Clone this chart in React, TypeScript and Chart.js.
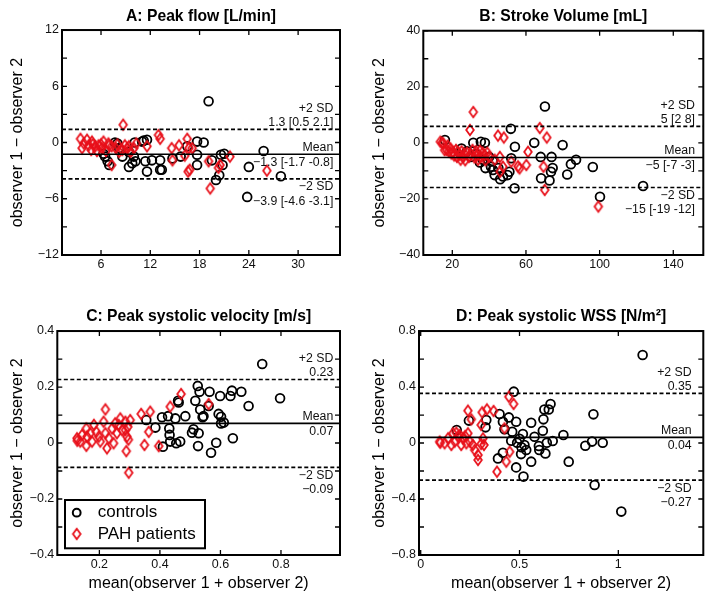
import React, { useEffect, useRef } from 'react';
import { Chart, registerables } from 'chart.js';
Chart.register(...registerables);

const FONT = "'Liberation Sans', Arial, Helvetica, sans-serif";
const RED = '#e8101a';
const INK = '#000';

// ---------------- Panel A: Peak flow ----------------
const aTitle = 'A: Peak flow [L/min]';
const aControls = [
  [6.3, -1.2], [6.5, -1.5], [6.8, -2.0], [7.0, -2.4], [7.7, 0.0], [8.0, -0.1], [8.2, -0.6], [8.6, -1.5],
  [9.4, -1.0], [10.0, -1.5], [9.4, -2.6], [9.8, -2.2], [10.2, -2.0], [10.1, 0.0], [11.0, 0.1], [11.2, 0.2],
  [11.6, 0.3], [11.4, -2.0], [11.6, -3.1], [12.2, -1.9], [13.2, -1.9], [13.2, -2.9], [13.4, -2.9], [14.7, -1.7],
  [15.7, -1.5], [16.5, -0.4], [17.7, -1.3], [17.7, 0.1], [18.5, 0.0], [17.7, -2.4], [19.5, -1.9], [20.6, -1.3],
  [21.0, -1.2], [20.8, -2.4], [20.4, -3.5], [20.0, -4.0], [24.0, -2.6], [25.8, -0.9], [27.9, -3.6], [23.8, -5.8],
  [19.1, 4.4],
];
const aPAH = [
  [3.5, 0.4], [4.3, 0.3], [3.9, -0.1], [4.5, -0.3], [4.9, 0.1], [5.3, -0.4], [5.7, -0.3], [6.3, 0.1], [6.1, -0.6],
  [6.9, -0.1], [7.3, -0.4], [7.8, -0.6], [8.2, -1.0], [8.6, -0.8], [9.2, -0.6], [9.6, -1.0], [10.0, -0.6],
  [3.7, -0.6], [4.8, -0.8], [5.5, -0.9], [6.6, -0.9], [7.0, -0.3], [8.0, -0.2], [8.9, -0.3], [9.4, -0.4],
  [10.3, -0.1], [5.0, -0.2], [6.0, -0.2], [7.3, -2.4], [8.7, 1.9], [11.6, -0.4], [13.0, 0.8], [13.2, 0.4],
  [14.6, -0.6], [14.7, -1.9], [15.5, -0.3], [16.5, 0.4], [16.7, -0.6], [16.2, -1.4], [17.1, -0.6], [16.6, -3.1],
  [16.8, -2.9], [19.1, -2.0], [20.5, -2.4], [21.7, -1.5], [19.3, -4.9], [26.2, -3.0], [20.3, -2.7],
];
const aLines = [1.4, -1.25, -3.88]; // +2 SD, mean, -2 SD
const aLineText = ['+2 SD', '1.3 [0.5 2.1]', 'Mean', '\u22121.3 [-1.7 -0.8]', '\u22122 SD', '\u22123.9 [-4.6 -3.1]'];
const aXRange = [1.25, 35.1];
const aYRange = [-12, 12];
const aXTicks = [6, 12, 18, 24, 30];
const aYTicks = [-12, -9, -6, -3, 0, 3, 6, 9, 12];
const aYLabels = [-12, -6, 0, 6, 12];

// ---------------- Panel B: Stroke volume ----------------
const bTitle = 'B: Stroke Volume [mL]';
const bControls = [
  [16, 1], [31.4, 0], [37.7, 0], [35.5, 0.4], [51.8, 5], [54, -1.4], [64.5, 0], [70.3, 13], [79.9, -0.8],
  [28, -3], [30, -5], [33, -4], [35, -7], [36.6, -6], [38, -9], [40, -5], [41, -8.5], [43, -11.5], [45, -9],
  [47.5, -12], [50, -11.5], [51, -10.3], [52, -5.5], [53.8, -16.2], [68, -5], [73.9, -5], [68.2, -12.6],
  [72.8, -13.4], [73.6, -10.3], [74.5, -9], [82.4, -11.3], [84.4, -7.6], [87.2, -6], [96.3, -8.6],
  [100.2, -19.2], [123.6, -15.4], [25, -2], [42, -6.5], [46, -13], [42.1, -9.7],
];
const bPAH = [
  [13.5, 0.4], [14.5, 0], [15.1, -0.2], [15.8, -2.6], [16.9, -2.5], [17.5, -1], [18, -3], [19, -2], [19.5, -3.8],
  [20.4, -3.2], [21, -4.5], [22, -2.5], [22.5, -5], [23, -3.2], [24, -4.3], [24.5, -6], [25, -3], [26, -5],
  [26.5, -3.8], [27, -6.2], [28, -3.5], [29, -5], [30, -4], [31, -2.5], [32, -5.2], [33, -3], [33.5, -4.5],
  [34, -6], [35, -2.8], [35.5, -5], [36.5, -3.5], [37.5, -4.5], [38, -6.2], [39, -3.5], [40, -5], [29.6, 4.6],
  [31.4, 11], [44.8, 2.6], [48, 1.9], [67.5, 5.3], [71.3, 1.9], [45.8, -5], [46, -10.3], [47.5, -8.5], [52, -6.7],
  [55.7, -8.4], [56.5, -9.1], [60.2, -7.9], [61.1, -3.2], [69.5, -8.5], [70.2, -16.8], [99.3, -22.7], [43, -6],
];
const bLines = [5.9, -5.2, -15.9];
const bLineText = ['+2 SD', '5 [2 8]', 'Mean', '\u22125 [-7 -3]', '\u22122 SD', '\u221215 [-19 -12]'];
const bXRange = [4.25, 156.3];
const bYRange = [-40, 40];
const bXTicks = [20, 60, 100, 140];
const bYTicks = [-40, -30, -20, -10, 0, 10, 20, 30, 40];
const bYLabels = [-40, -20, 0, 20, 40];

// ---------------- Panel C: Peak systolic velocity ----------------
const cTitle = 'C: Peak systolic velocity [m/s]';
const cControls = [
  [0.355, 0.082], [0.385, 0.055], [0.407, 0.092], [0.41, -0.013], [0.427, 0.096], [0.431, 0.052], [0.432, 0.029],
  [0.434, 0.005], [0.451, 0.088], [0.454, -0.001], [0.46, 0.151], [0.462, 0.145], [0.467, 0.005], [0.484, 0.096],
  [0.506, 0.037], [0.511, 0.049], [0.517, 0.151], [0.525, 0.204], [0.526, -0.011], [0.528, 0.035], [0.531, 0.183],
  [0.533, 0.12], [0.541, 0.092], [0.544, 0.096], [0.561, 0.132], [0.564, 0.183], [0.569, -0.035], [0.586, 0.001],
  [0.594, 0.104], [0.599, 0.168], [0.602, 0.094], [0.602, 0.07], [0.611, 0.073], [0.633, 0.168], [0.638, 0.187],
  [0.641, 0.017], [0.669, 0.183], [0.693, 0.132], [0.738, 0.282], [0.797, 0.16],
];
const cPAH = [
  [0.47, 0.175], [0.561, 0.139], [0.434, 0.13], [0.22, 0.12], [0.338, 0.104], [0.368, 0.112], [0.363, 0.04],
  [0.349, -0.007], [0.396, -0.011], [0.289, -0.029], [0.297, -0.106], [0.225, -0.019], [0.214, 0.076],
  [0.269, 0.088], [0.286, 0.076], [0.264, 0.064], [0.302, 0.082], [0.157, 0.052], [0.126, 0.017], [0.137, 0.005],
  [0.157, -0.01], [0.176, 0.005], [0.19, 0.04], [0.198, 0.023], [0.22, 0.035], [0.231, 0.017], [0.242, 0.052],
  [0.258, 0.035], [0.275, 0.046], [0.291, 0.023], [0.143, 0.029], [0.17, 0.035], [0.203, 0.005], [0.247, -0.001],
  [0.286, 0.046], [0.294, 0.058], [0.159, 0.023], [0.296, 0.012], [0.127, 0.008], [0.182, 0.065], [0.252, 0.07],
];
const cLines = [0.227, 0.07, -0.087];
const cLineText = ['+2 SD', '0.23', 'Mean', '0.07', '\u22122 SD', '\u22120.09'];
const cXRange = [0.061, 0.995];
const cYRange = [-0.4, 0.4];
const cXTicks = [0.2, 0.4, 0.6, 0.8];
const cYTicks = [-0.4, -0.3, -0.2, -0.1, 0, 0.1, 0.2, 0.3, 0.4];
const cYLabels = [-0.4, -0.2, 0, 0.2, 0.4];

// ---------------- Panel D: Peak systolic WSS ----------------
const dTitle = 'D: Peak systolic WSS [N/m\u00b2]';
const dControls = [
  [0.471, 0.367], [0.657, 0.279], [0.648, 0.24], [0.626, 0.24], [0.874, 0.205], [0.244, 0.16], [0.332, 0.164],
  [0.399, 0.207], [0.446, 0.183], [0.483, 0.152], [0.559, 0.145], [0.621, 0.169], [0.618, 0.088], [0.416, 0.152],
  [0.424, 0.098], [0.463, 0.081], [0.517, 0.064], [0.576, 0.045], [0.722, 0.057], [0.328, 0.112], [0.458, 0.017],
  [0.488, 0.002], [0.525, -0.014], [0.534, -0.05], [0.508, -0.079], [0.559, -0.133], [0.598, -0.021],
  [0.631, -0.074], [0.638, 0.002], [0.668, 0.014], [0.749, -0.133], [0.833, -0.019], [0.867, 0.01], [0.921, 0.002],
  [0.391, -0.11], [0.416, -0.069], [0.483, -0.174], [0.52, -0.24], [0.182, 0.093], [0.88, -0.3], [1.015, -0.49],
  [1.123, 0.629], [0.5, 0.03], [0.6, -0.05], [0.51, -0.03],
];
const dPAH = [
  [0.446, 0.331], [0.47, 0.279], [0.239, 0.231], [0.311, 0.219], [0.335, 0.24], [0.369, 0.229], [0.256, 0.169],
  [0.306, 0.129], [0.424, 0.105], [0.099, 0.002], [0.138, 0.033], [0.163, 0.069], [0.18, 0.074], [0.197, 0.057],
  [0.214, 0.033], [0.239, 0.069], [0.248, 0.01], [0.264, -0.014], [0.273, -0.05], [0.29, -0.086], [0.29, -0.121],
  [0.306, -0.007], [0.315, 0.033], [0.155, -0.014], [0.172, 0.01], [0.205, -0.014], [0.231, -0.002], [0.096, 0.01],
  [0.121, -0.002], [0.45, -0.062], [0.433, -0.133], [0.386, -0.205], [0.32, -0.014], [0.19, 0.045], [0.225, 0.05],
];
const dLines = [0.355, 0.04, -0.265];
const dLineText = ['+2 SD', '0.35', 'Mean', '0.04', '\u22122 SD', '\u22120.27'];
const dXRange = [-0.0086, 1.43];
const dYRange = [-0.8, 0.8];
const dXTicks = [0, 0.5, 1];
const dYTicks = [-0.8, -0.6, -0.4, -0.2, 0, 0.2, 0.4, 0.6, 0.8];
const dYLabels = [-0.8, -0.4, 0, 0.4, 0.8];

const seriesNames = ['controls', 'PAH patients'];
const yAxisTitle = 'observer 1 \u2212 observer 2';
const xAxisTitle = 'mean(observer 1 + observer 2)';

// ---------------- assembled panel definitions ----------------
const panels = [
  { title: aTitle, controls: aControls, pah: aPAH, lines: aLines, lineText: aLineText, xRange: aXRange, yRange: aYRange, xTicks: aXTicks, yTicks: aYTicks, yLabels: aYLabels, xLabels: aXTicks },
  { title: bTitle, controls: bControls, pah: bPAH, lines: bLines, lineText: bLineText, xRange: bXRange, yRange: bYRange, xTicks: bXTicks, yTicks: bYTicks, yLabels: bYLabels, xLabels: bXTicks },
  { title: cTitle, controls: cControls, pah: cPAH, lines: cLines, lineText: cLineText, xRange: cXRange, yRange: cYRange, xTicks: cXTicks, yTicks: cYTicks, yLabels: cYLabels, xLabels: cXTicks },
  { title: dTitle, controls: dControls, pah: dPAH, lines: dLines, lineText: dLineText, xRange: dXRange, yRange: dYRange, xTicks: dXTicks, yTicks: dYTicks, yLabels: dYLabels, xLabels: dXTicks },
];

// layout geometry (pixels) per panel
const geoms = [
  { left: 0, top: 0, w: 357, h: 300, padR: 17, yW: 62, xH: 45, tTop: 7.3, tBot: 3.9, yTitlePad: 7.6, xTitle: false, textInset: 6.7, legend: false },
  { left: 357, top: 0, w: 357, h: 300, padR: 10.7, yW: 66.3, xH: 45, tTop: 7.3, tBot: 4.6, yTitlePad: 13.4, xTitle: false, textInset: 8.3, legend: false },
  { left: 0, top: 300, w: 357, h: 303, padR: 17, yW: 57.3, xH: 48, tTop: 7.3, tBot: 4.9, yTitlePad: 7.9, xTitle: true, textInset: 6.7, legend: true },
  { left: 357, top: 300, w: 357, h: 303, padR: 10.7, yW: 62, xH: 48, tTop: 7.3, tBot: 4.9, yTitlePad: 13.4, xTitle: true, textInset: 11.6, legend: false },
];

function fmt(v: number): string {
  if (Math.abs(v) < 1e-9) return '0';
  const s = String(Math.round(Math.abs(v) * 1000) / 1000);
  return (v < 0 ? '\u2212' : '') + s;
}

function makeDiamond(color: string) {
  const c = document.createElement('canvas');
  c.width = 14;
  c.height = 16;
  const g = c.getContext('2d')!;
  g.strokeStyle = color;
  g.lineWidth = 1.8;
  g.lineJoin = 'miter';
  g.beginPath();
  g.moveTo(7, 2.8);
  g.lineTo(10.8, 8);
  g.lineTo(7, 13.2);
  g.lineTo(3.2, 8);
  g.closePath();
  g.stroke();
  return c;
}

function Panel({ def, geom }: { def: any; geom: any }) {
  const ref = useRef<HTMLCanvasElement>(null);
  useEffect(() => {
    const canvas = ref.current!;
    const diamond = makeDiamond(RED);
    const toPts = (arr: number[][]) => arr.map(([x, y]) => ({ x, y }));
    const hline = (v: number) => [{ x: def.xRange[0], y: v }, { x: def.xRange[1], y: v }];
    const lineDs = (v: number, dash: number[]) => ({
      data: hline(v), showLine: true, borderColor: INK, backgroundColor: INK, borderWidth: 1.6,
      borderDash: dash, pointRadius: 0, order: 0,
    });

    const frame = {
      id: 'frame',
      afterDraw(chart: any) {
        const { ctx, chartArea: a } = chart;
        const xs = chart.scales.x;
        const ys = chart.scales.y;
        ctx.save();
        ctx.strokeStyle = INK;
        ctx.lineWidth = 1.3;
        ctx.beginPath();
        def.yTicks.forEach((v: number) => {
          const py = ys.getPixelForValue(v);
          ctx.moveTo(a.left, py); ctx.lineTo(a.left + 5, py);
          ctx.moveTo(a.right, py); ctx.lineTo(a.right - 5, py);
        });
        def.xTicks.forEach((v: number) => {
          const px = xs.getPixelForValue(v);
          ctx.moveTo(px, a.top); ctx.lineTo(px, a.top + 5);
          ctx.moveTo(px, a.bottom); ctx.lineTo(px, a.bottom - 5);
        });
        ctx.stroke();
        ctx.lineWidth = 2;
        ctx.strokeRect(a.left, a.top, a.right - a.left, a.bottom - a.top);

        // reference-line annotations
        ctx.font = `12.3px ${FONT}`;
        ctx.fillStyle = '#111';
        ctx.textAlign = 'right';
        ctx.textBaseline = 'middle';
        const tx = a.right - geom.textInset;
        const yU = ys.getPixelForValue(def.lines[0]);
        const yM = ys.getPixelForValue(def.lines[1]);
        const yL = ys.getPixelForValue(def.lines[2]);
        ctx.fillText(def.lineText[0], tx, yU - 20.5);
        ctx.fillText(def.lineText[1], tx, yU - 6.5);
        ctx.fillText(def.lineText[2], tx, yM - 6.5);
        ctx.fillText(def.lineText[3], tx, yM + 8);
        ctx.fillText(def.lineText[4], tx, yL + 8);
        ctx.fillText(def.lineText[5], tx, yL + 22.5);

        if (geom.legend) {
          const L = a.left + 7.7;
          const T = a.bottom - 55;
          const W = 140;
          const H = 48.3;
          ctx.fillStyle = '#fff';
          ctx.fillRect(L, T, W, H);
          ctx.lineWidth = 2;
          ctx.strokeStyle = INK;
          ctx.strokeRect(L, T, W, H);
          const mx = a.left + 19.4;
          ctx.lineWidth = 2;
          ctx.beginPath();
          ctx.arc(mx, T + 12.7, 3.9, 0, Math.PI * 2);
          ctx.stroke();
          ctx.drawImage(diamond, mx - diamond.width / 2, T + 34 - diamond.height / 2);
          ctx.fillStyle = '#000';
          ctx.textAlign = 'left';
          ctx.font = `17px ${FONT}`;
          ctx.fillText(seriesNames[0], a.left + 40.4, T + 12.7);
          ctx.fillText(seriesNames[1], a.left + 40.4, T + 34);
        }
        ctx.restore();
      },
    };

    const chart = new Chart(canvas, {
      type: 'scatter',
      data: {
        datasets: [
          lineDs(def.lines[0], [4, 2.5]),
          lineDs(def.lines[1], []),
          lineDs(def.lines[2], [4, 2.5]),
          {
            label: seriesNames[1], data: toPts(def.pah), pointStyle: diamond as any, pointRadius: 5,
            borderColor: RED, backgroundColor: 'rgba(0,0,0,0)', borderWidth: 1.8, order: 1,
          },
          {
            label: seriesNames[0], data: toPts(def.controls), pointStyle: 'circle', pointRadius: 4.4,
            borderColor: INK, backgroundColor: 'rgba(0,0,0,0)', borderWidth: 1.8, order: 2,
          },
        ] as any,
      },
      options: {
        animation: false,
        responsive: false,
        maintainAspectRatio: false,
        events: [],
        layout: { padding: { left: 0, right: geom.padR, top: 0, bottom: 0 } },
        plugins: {
          legend: { display: false },
          tooltip: { enabled: false },
          title: {
            display: true,
            text: def.title,
            fullSize: false,
            color: '#000',
            font: { family: FONT, size: 15.7, weight: 'bold', lineHeight: 1.2 },
            padding: { top: geom.tTop, bottom: geom.tBot },
          },
        },
        scales: {
          x: {
            type: 'linear',
            min: def.xRange[0],
            max: def.xRange[1],
            afterBuildTicks: (s: any) => { s.ticks = def.xTicks.map((v: number) => ({ value: v })); },
            afterFit: (s: any) => { s.height = geom.xH; },
            grid: { display: false, drawTicks: false },
            border: { display: false },
            ticks: {
              autoSkip: false, maxRotation: 0, minRotation: 0, padding: 2.5, color: '#111',
              font: { family: FONT, size: 12.5, lineHeight: 1.2 },
              callback: (v: any) => (def.xLabels.includes(Number(v)) ? fmt(Number(v)) : ''),
            },
            title: geom.xTitle
              ? { display: true, text: xAxisTitle, color: '#000', font: { family: FONT, size: 16, lineHeight: 1.2 }, padding: { top: 0, bottom: 9.4 } }
              : { display: false },
          },
          y: {
            type: 'linear',
            min: def.yRange[0],
            max: def.yRange[1],
            afterBuildTicks: (s: any) => { s.ticks = def.yTicks.map((v: number) => ({ value: v })); },
            afterFit: (s: any) => { s.width = geom.yW; },
            grid: { display: false, drawTicks: false },
            border: { display: false },
            ticks: {
              autoSkip: false, padding: 3, color: '#111',
              font: { family: FONT, size: 12.5, lineHeight: 1.2 },
              callback: (v: any) => (def.yLabels.some((l: number) => Math.abs(l - Number(v)) < 1e-9) ? fmt(Number(v)) : ''),
            },
            title: { display: true, text: yAxisTitle, color: '#000', font: { family: FONT, size: 16, lineHeight: 1.2 }, padding: { top: geom.yTitlePad, bottom: 0 } },
          },
        },
      } as any,
      plugins: [frame],
    });
    return () => chart.destroy();
  }, [def, geom]);

  return (
    <canvas
      ref={ref}
      width={geom.w}
      height={geom.h}
      style={{ position: 'absolute', left: geom.left, top: geom.top, width: geom.w, height: geom.h }}
    />
  );
}

export default function App() {
  return (
    <div style={{ position: 'absolute', left: 0, top: 0, width: 714, height: 603, background: '#fff', overflow: 'hidden' }}>
      {panels.map((p, i) => (
        <Panel key={i} def={p} geom={geoms[i]} />
      ))}
    </div>
  );
}
